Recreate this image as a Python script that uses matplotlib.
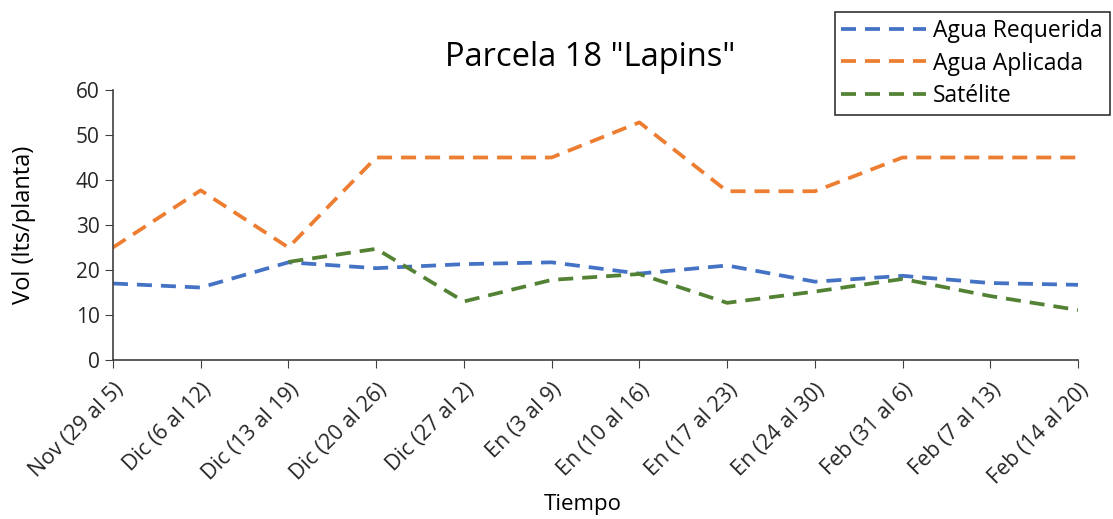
import numpy as np
import matplotlib
matplotlib.use("Agg")
import matplotlib.pyplot as plt

plt.rcParams['font.family'] = ['Open Sans', 'DejaVu Sans']

semanas = ["Nov (29 al 5)", "Dic (6 al 12)", "Dic (13 al 19)", "Dic (20 al 26)",
           "Dic (27 al 2)", "En (3 al 9)", "En (10 al 16)", "En (17 al 23)",
           "En (24 al 30)", "Feb (31 al 6)", "Feb (7 al 13)", "Feb (14 al 20)"]
agua_requerida = [17.0, 16.1, 21.7, 20.4, 21.3, 21.7, 19.2, 21.0, 17.4, 18.7, 17.1, 16.7]
agua_aplicada = [25.0, 37.7, 25.0, 45.0, 45.0, 45.0, 52.8, 37.5, 37.5, 45.0, 45.0, 45.0]
satelite = [np.nan, np.nan, 21.8, 24.7, 13.0, 17.8, 19.1, 12.7, 15.2, 18.0, 14.2, 11.1]

fig = plt.figure(figsize=(11.13, 5.19), dpi=100)
ax = fig.add_axes([0.1015, 0.3064, 0.8671, 0.5202])

x = np.arange(len(semanas))
estilo = dict(lw=2.7, ls=(0, (4.0, 2.4)), dash_capstyle='butt')
ax.plot(x, agua_requerida, color='#4472C4', label='Agua Requerida', **estilo)
ax.plot(x, agua_aplicada, color='#ED7D31', label='Agua Aplicada', **estilo)
ax.plot(x, satelite, color='#548235', label='Satélite', **estilo)

ax.set_xlim(0, len(semanas) - 1)
ax.set_ylim(0, 60)
ax.set_yticks(range(0, 61, 10))
ax.set_xticks(x)
ax.set_xticklabels(semanas, rotation=45, ha='right', rotation_mode='anchor', fontsize=15.5)
ax.tick_params(axis='y', labelsize=15, length=6, color='#404040', labelcolor='#262626')
ax.tick_params(axis='x', length=6, pad=8, color='#404040', labelcolor='#262626')
for s in ['top', 'right']:
    ax.spines[s].set_visible(False)
for s in ['left', 'bottom']:
    ax.spines[s].set_color('#404040')
    ax.spines[s].set_linewidth(1.2)

fig.text(0.022, 0.5676, 'Vol (lts/planta)', fontsize=17, rotation=90, ha='center', va='center')
fig.text(0.524, 0.027, 'Tiempo', fontsize=16, ha='center', va='center')
fig.text(0.530, 0.890, 'Parcela 18 "Lapins"', fontsize=23.5, ha='center', va='center')

leg = fig.legend(loc='upper right', bbox_to_anchor=(0.997, 0.977), fontsize=16.5,
                 frameon=True, fancybox=False, edgecolor='black', handlelength=3.7,
                 borderpad=0.3, labelspacing=0.38, handletextpad=0.3, borderaxespad=0)
leg.get_frame().set_linewidth(1.2)

fig.savefig('out.png', dpi=100)
